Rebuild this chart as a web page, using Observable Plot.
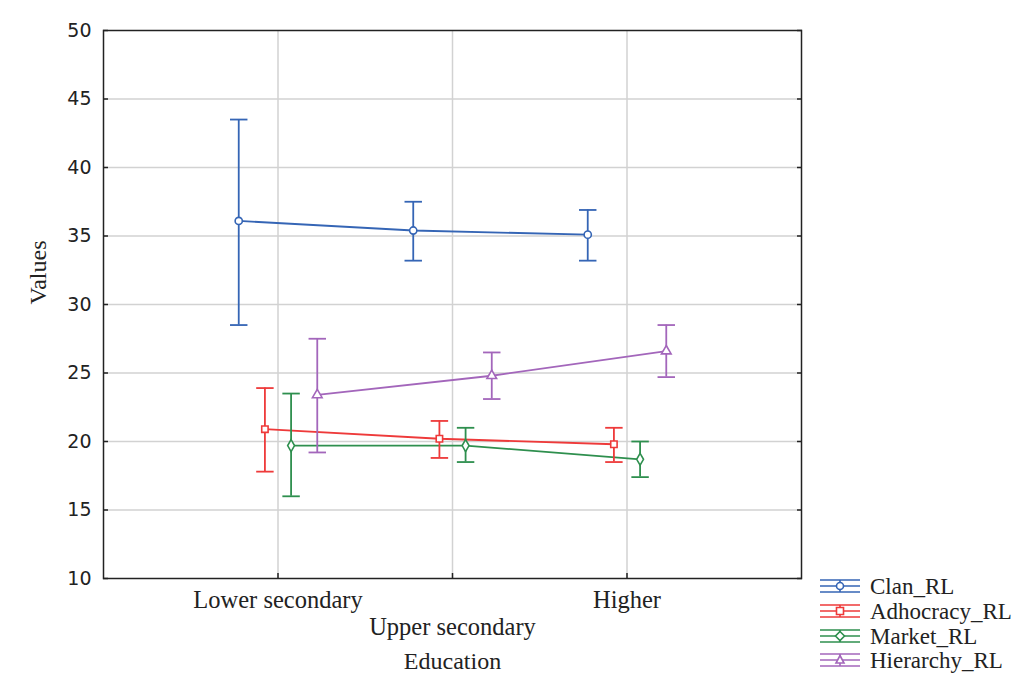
<!DOCTYPE html>
<html><head><meta charset="utf-8">
<script src="https://cdn.jsdelivr.net/npm/d3@7"></script>
<script src="https://cdn.jsdelivr.net/npm/@observablehq/plot@0.6"></script>
<style>
body{margin:0;background:#fff}
#wrap{position:relative;width:1022px;height:688px}
#legend{position:absolute;left:0;top:0}
</style>
</head><body><div id="wrap"></div>
<script>
const categories = ["Lower secondary", "Upper secondary", "Higher"];
const seriesNames = ["Clan_RL", "Adhocracy_RL", "Market_RL", "Hierarchy_RL"];
const colors = ["#3565b5", "#ee3a3a", "#2e8f4e", "#a366bb"];
const symbols = ["circle", "square", "diamond", "triangle"];

const clanMean = [36.1, 35.4, 35.1];
const clanLow  = [28.5, 33.2, 33.2];
const clanHigh = [43.5, 37.5, 36.9];

const adhocMean = [20.9, 20.2, 19.8];
const adhocLow  = [17.8, 18.8, 18.5];
const adhocHigh = [23.9, 21.5, 21.0];

const marketMean = [19.7, 19.7, 18.7];
const marketLow  = [16.0, 18.5, 17.4];
const marketHigh = [23.5, 21.0, 20.0];

const hierMean = [23.4, 24.8, 26.6];
const hierLow  = [19.2, 23.1, 24.7];
const hierHigh = [27.5, 26.5, 28.5];

const yTicks = [10, 15, 20, 25, 30, 35, 40, 45, 50];

const means = [clanMean, adhocMean, marketMean, hierMean];
const lows = [clanLow, adhocLow, marketLow, hierLow];
const highs = [clanHigh, adhocHigh, marketHigh, hierHigh];

const dodge = 0.15, capHalf = 0.05;
const rows = [];
seriesNames.forEach((s, i) => {
  categories.forEach((c, j) => {
    rows.push({series: s, cat: j, x: j + (i - 1.5) * dodge,
      mean: means[i][j], low: lows[i][j], high: highs[i][j]});
  });
});

const serif = "Liberation Serif, Times New Roman, serif";
const sans = "DejaVu Sans, sans-serif";

const chart = Plot.plot({
  width: 1022, height: 688,
  marginLeft: 103, marginRight: 221, marginTop: 30, marginBottom: 110,
  style: {fontFamily: sans, fontSize: "18px", color: "#222", background: "white"},
  x: {domain: [-1, 3], axis: null},
  y: {domain: [10, 50], axis: null},
  color: {domain: seriesNames, range: colors},
  symbol: {domain: seriesNames, range: symbols},
  marks: [
    Plot.gridX([0, 1, 2], {stroke: "#d2d2d2", strokeOpacity: 1, strokeWidth: 1.5}),
    Plot.gridY(yTicks.slice(1, -1), {stroke: "#d2d2d2", strokeOpacity: 1, strokeWidth: 1.5}),
    Plot.frame({stroke: "#222", strokeWidth: 1.5}),
    Plot.axisY(yTicks, {anchor: "left", tickSize: 0, tickPadding: 12, label: null, fontSize: 19, fontFamily: sans}),
    Plot.axisY(yTicks, {anchor: "left", tickSize: 5, dx: 5, fill: "none", label: null, stroke: "#222", strokeWidth: 1.5}),
    Plot.axisY(yTicks, {anchor: "right", tickSize: 5, dx: -5, fill: "none", label: null, stroke: "#222", strokeWidth: 1.5}),
    Plot.axisX([0, 1, 2], {anchor: "bottom", tickSize: 5, dy: -5, fill: "none", label: null, stroke: "#222", strokeWidth: 1.5}),
    Plot.axisX([0, 2], {anchor: "bottom", tickSize: 0, tickPadding: 12, label: null, tickFormat: i => categories[i], fontSize: 24.5, fontFamily: serif}),
    Plot.axisX([1], {anchor: "bottom", tickSize: 0, tickPadding: 12, dy: 27, label: null, tickFormat: i => categories[i], fontSize: 24.5, fontFamily: serif}),
    Plot.text(["Education"], {frameAnchor: "bottom", lineAnchor: "middle", dy: 83, fontSize: 24, fontFamily: serif}),
    Plot.text(["Values"], {frameAnchor: "left", rotate: -90, lineAnchor: "middle", dx: -65, fontSize: 24, fontFamily: serif}),
    Plot.line(rows, {x: "x", y: "mean", z: "series", stroke: "series", strokeWidth: 1.8}),
    Plot.ruleX(rows, {x: "x", y1: "low", y2: "high", stroke: "series", strokeWidth: 1.8}),
    Plot.link(rows, {x1: d => d.x - capHalf, x2: d => d.x + capHalf, y1: "high", y2: "high", stroke: "series", strokeWidth: 1.8}),
    Plot.link(rows, {x1: d => d.x - capHalf, x2: d => d.x + capHalf, y1: "low", y2: "low", stroke: "series", strokeWidth: 1.8}),
    Plot.dot(rows, {x: "x", y: "mean", symbol: "series", stroke: "series", fill: "white", r: 3.6, strokeWidth: 1.6})
  ]
});

const wrap = document.getElementById("wrap");
wrap.appendChild(chart);

// Legend (outside the plot frame, bottom right)
const ns = "http://www.w3.org/2000/svg";
const leg = document.createElementNS(ns, "svg");
leg.setAttribute("id", "legend");
leg.setAttribute("width", 1022);
leg.setAttribute("height", 688);
leg.style.pointerEvents = "none";
const legY = [586, 611, 636, 660];
const symPaths = {
  circle: "M3.5,0A3.5,3.5,0,1,1,-3.5,0A3.5,3.5,0,1,1,3.5,0Z",
  square: "M-3.5,-3.5h7v7h-7Z",
  diamond: "M0,-4.5L4.5,0L0,4.5L-4.5,0Z",
  triangle: "M0,-4.5L4,3L-4,3Z"
};
seriesNames.forEach((s, i) => {
  const g = document.createElementNS(ns, "g");
  g.setAttribute("transform", `translate(840,${legY[i]})`);
  g.setAttribute("stroke", colors[i]);
  g.setAttribute("stroke-width", "1.6");
  g.setAttribute("fill", "none");
  g.innerHTML = `<line x1="-20" x2="20" y1="-6" y2="-6"/><line x1="-20" x2="20" y1="0" y2="0"/><line x1="-20" x2="20" y1="6" y2="6"/><line x1="0" x2="0" y1="-6" y2="6"/><path d="${symPaths[symbols[i]]}" fill="white"/>`;
  leg.appendChild(g);
  const t = document.createElementNS(ns, "text");
  t.setAttribute("x", 870);
  t.setAttribute("y", legY[i]);
  t.setAttribute("dy", "0.35em");
  t.setAttribute("font-family", serif);
  t.setAttribute("font-size", "23");
  t.setAttribute("fill", "#222");
  t.textContent = s;
  leg.appendChild(t);
});
wrap.appendChild(leg);
</script></body></html>
